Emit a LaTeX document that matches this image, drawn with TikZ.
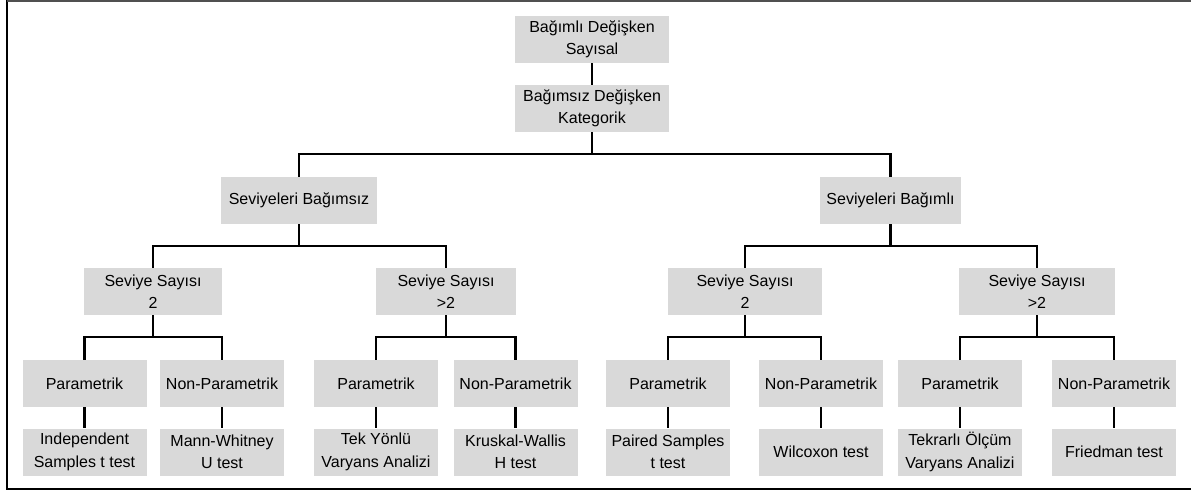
\documentclass[tikz,border=0pt]{standalone}
\usepackage{fontspec}
\setmainfont{Liberation Sans}
\definecolor{boxgray}{HTML}{D9D9D9}
\definecolor{framegray}{HTML}{505050}
\begin{document}
\begin{tikzpicture}[x=1pt,y=-1pt,
  box/.style={fill=boxgray, inner sep=0pt, minimum height=47pt, align=center,
    font=\fontsize{16}{22.5}\selectfont},
  conn/.style={line width=2.2pt, black},
  leaf/.style={box, minimum width=124pt}]
\useasboundingbox (0,0) rectangle (1191,492);
\begin{scope}
\clip (0,0) rectangle (1191,492);
\draw[line width=2.2pt, black] (7,1) rectangle (1200,489);
\draw[line width=2.2pt, framegray] (7,1) -- (1200,1);
\end{scope}
% level 0,1
\node[box, minimum width=154pt] (t1) at (592,39.5) {Bağımlı Değişken\\Sayısal};
\node[box, minimum width=154pt] (t2) at (592,108.5) {Bağımsız Değişken\\Kategorik};
% level 2
\node[box, minimum width=156pt] (a) at (299,200.5) {Seviyeleri Bağımsız};
\node[box, minimum width=141pt] (b) at (890.5,200.5) {Seviyeleri Bağımlı};
% level 3
\node[box, minimum width=138pt] (a1) at (153,291.5) {Seviye Sayısı\\2};
\node[box, minimum width=140pt] (a2) at (446,291.5) {Seviye Sayısı\\>2};
\node[box, minimum width=154pt] (b1) at (745,291.5) {Seviye Sayısı\\2};
\node[box, minimum width=156pt] (b2) at (1037,291.5) {Seviye Sayısı\\>2};
% level 4
\node[leaf] (p1) at (84.5,383.5) {Parametrik};
\node[leaf] (n1) at (222,383.5) {Non-Parametrik};
\node[leaf] (p2) at (376,383.5) {Parametrik};
\node[leaf] (n2) at (515.5,383.5) {Non-Parametrik};
\node[leaf] (p3) at (668,383.5) {Parametrik};
\node[leaf] (n3) at (821,383.5) {Non-Parametrik};
\node[leaf] (p4) at (960,383.5) {Parametrik};
\node[leaf] (n4) at (1114,383.5) {Non-Parametrik};
% level 5
\node[leaf] (p1t) at (84.5,452) {Independent\\Samples t test};
\node[leaf] (n1t) at (222,452) {Mann-Whitney\\U test};
\node[leaf] (p2t) at (376,452) {Tek Yönlü\\Varyans Analizi};
\node[leaf] (n2t) at (515.5,452) {Kruskal-Wallis\\H test};
\node[leaf] (p3t) at (668,452) {Paired Samples\\t test};
\node[leaf] (n3t) at (821,452) {Wilcoxon test};
\node[leaf] (p4t) at (960,452) {Tekrarlı Ölçüm\\Varyans Analizi};
\node[leaf] (n4t) at (1114,452) {Friedman test};
% connectors
\draw[conn] (t1.south) -- (t2.north);
\draw[conn] (t2.south) -- (t2.south |- 0,154);
\draw[conn] (a.north) |- (t2.south |- 0,154) -| (b.north);
\draw[conn] (a.south) -- (a.south |- 0,246);
\draw[conn] (a1.north) |- (a.south |- 0,246) -| (a2.north);
\draw[conn] (b.south) -- (b.south |- 0,246);
\draw[conn] (b1.north) |- (b.south |- 0,246) -| (b2.north);
\foreach \s/\l/\r in {a1/p1/n1, a2/p2/n2, b1/p3/n3, b2/p4/n4}{
  \draw[conn] (\s.south) -- (\s.south |- 0,337);
  \draw[conn] (\l.north) |- (\s.south |- 0,337) -| (\r.north);
}
\foreach \u in {p1,n1,p2,n2,p3,n3,p4,n4}{
  \draw[conn] (\u.south) -- (\u t.north);
}
\end{tikzpicture}
\end{document}
